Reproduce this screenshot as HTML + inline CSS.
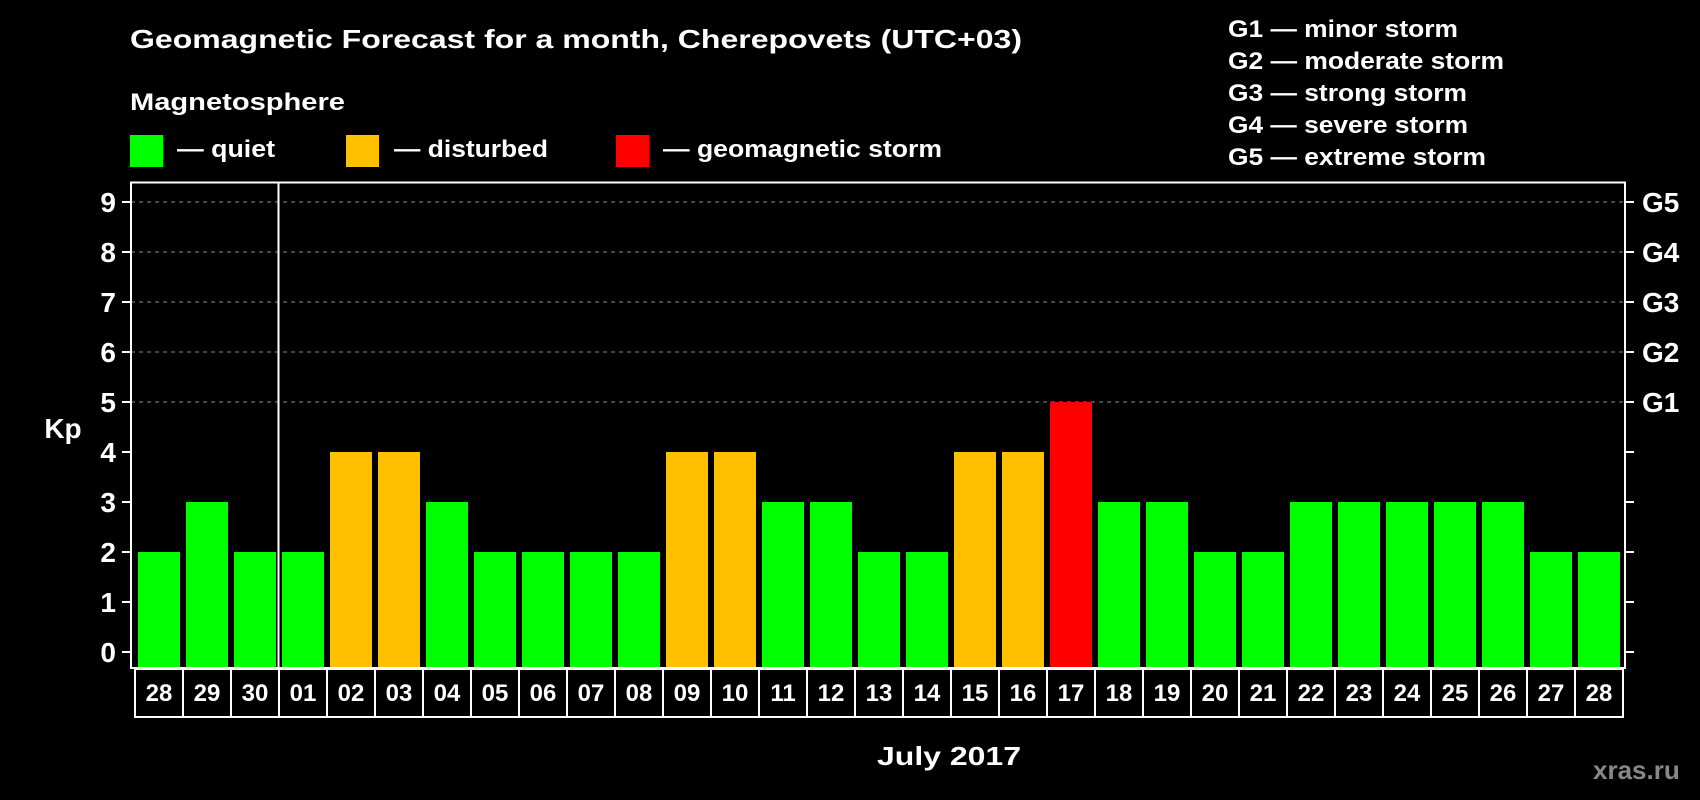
<!DOCTYPE html>
<html><head><meta charset="utf-8"><style>
html,body{margin:0;padding:0;background:#000;width:1700px;height:800px;overflow:hidden}
svg text{font-family:"Liberation Sans",sans-serif;font-weight:bold;fill:#fff}
</style></head><body>
<svg id="chart" width="1700" height="800" xmlns="http://www.w3.org/2000/svg">
<rect width="1700" height="800" fill="#000"/>
<text x="130" y="48" font-size="26" textLength="892" lengthAdjust="spacingAndGlyphs">Geomagnetic Forecast for a month, Cherepovets (UTC+03)</text>
<text x="130" y="110" font-size="24" textLength="215" lengthAdjust="spacingAndGlyphs">Magnetosphere</text>
<rect x="130" y="135" width="33" height="32" fill="#00ff00"/>
<text x="177" y="157" font-size="24" textLength="98" lengthAdjust="spacingAndGlyphs">— quiet</text>
<rect x="346" y="135" width="33" height="32" fill="#ffc000"/>
<text x="394" y="157" font-size="24" textLength="154" lengthAdjust="spacingAndGlyphs">— disturbed</text>
<rect x="616" y="135" width="33" height="32" fill="#ff0000"/>
<text x="663" y="157" font-size="24" textLength="279" lengthAdjust="spacingAndGlyphs">— geomagnetic storm</text>
<g font-size="24">
<text x="1228" y="37" textLength="230" lengthAdjust="spacingAndGlyphs">G1 — minor storm</text>
<text x="1228" y="69" textLength="276" lengthAdjust="spacingAndGlyphs">G2 — moderate storm</text>
<text x="1228" y="101" textLength="239" lengthAdjust="spacingAndGlyphs">G3 — strong storm</text>
<text x="1228" y="133" textLength="240" lengthAdjust="spacingAndGlyphs">G4 — severe storm</text>
<text x="1228" y="165" textLength="258" lengthAdjust="spacingAndGlyphs">G5 — extreme storm</text>
</g>
<g id="plot"></g>
<text x="63" y="438" font-size="28" text-anchor="middle">Kp</text>
<text x="877" y="765" font-size="26" textLength="144" lengthAdjust="spacingAndGlyphs">July 2017</text>
<text x="1593" y="779" font-size="26" style="fill:#888">xras.ru</text>
</svg>
<script>
const days = ["28","29","30","01","02","03","04","05","06","07","08","09","10","11","12","13","14","15","16","17","18","19","20","21","22","23","24","25","26","27","28"];
const kpValues = [2,3,2,2,4,4,3,2,2,2,2,4,4,3,3,2,2,4,4,5,3,3,2,2,3,3,3,3,3,2,2];
const yTicks = [0,1,2,3,4,5,6,7,8,9];
const gLabels = ["G1","G2","G3","G4","G5"];
const gLevels = [5,6,7,8,9];

const NS = "http://www.w3.org/2000/svg";
const plot = document.getElementById("plot");
const plotLeft = 131, plotRight = 1625, plotTop = 182.5, plotBottom = 668;
const pitch = 48, barW = 42, barX0 = 138, boxX0 = 135;
function yScale(v){ return 652 - v * 50; }
function xBar(i){ return barX0 + i * pitch; }
function mk(tag, attrs){ const e = document.createElementNS(NS, tag); for (const k in attrs) e.setAttribute(k, attrs[k]); plot.appendChild(e); return e; }
function color(v){ return v >= 5 ? "#ff0000" : (v >= 4 ? "#ffc000" : "#00ff00"); }

gLevels.forEach((v) => {
  const l = mk("line", {x1: plotLeft, x2: plotRight, y1: yScale(v), y2: yScale(v), stroke: "#888", "stroke-width": 1, "stroke-dasharray": "4,4"});
  
  
});
kpValues.forEach((v, i) => {
  const r = mk("rect", {x: xBar(i), y: yScale(v), width: barW, height: plotBottom - yScale(v), fill: color(v)});
  
  
});
const frame = mk("rect", {x: plotLeft, y: plotTop, width: plotRight - plotLeft, height: plotBottom - plotTop, fill: "none", stroke: "#fff", "stroke-width": 2});


const sep = mk("line", {x1: 278.5, x2: 278.5, y1: plotTop, y2: plotBottom, stroke: "#fff", "stroke-width": 2});


yTicks.forEach((v) => {
  const t1 = mk("line", {x1: 122, x2: plotLeft, y1: yScale(v), y2: yScale(v), stroke: "#fff", "stroke-width": 2});
  
  
  const t2 = mk("line", {x1: plotRight, x2: 1634, y1: yScale(v), y2: yScale(v), stroke: "#fff", "stroke-width": 2});
  
  
  const tx = mk("text", {x: 116, y: yScale(v) + 10, "font-size": 28, "text-anchor": "end"});
  tx.textContent = String(v);
  
  
});
gLabels.forEach((g, i) => {
  const tx = mk("text", {x: 1642, y: yScale(gLevels[i]) + 10, "font-size": 28});
  tx.textContent = g;
  
  
});
days.forEach((d, i) => {
  const b = mk("rect", {x: boxX0 + i * pitch, y: 669, width: pitch, height: 48, fill: "#000", stroke: "#fff", "stroke-width": 2});
  
  
  const tx = mk("text", {x: boxX0 + i * pitch + pitch / 2, y: 701, "font-size": 24, "text-anchor": "middle"});
  tx.textContent = d;
  
  
});
</script>
</body></html>
